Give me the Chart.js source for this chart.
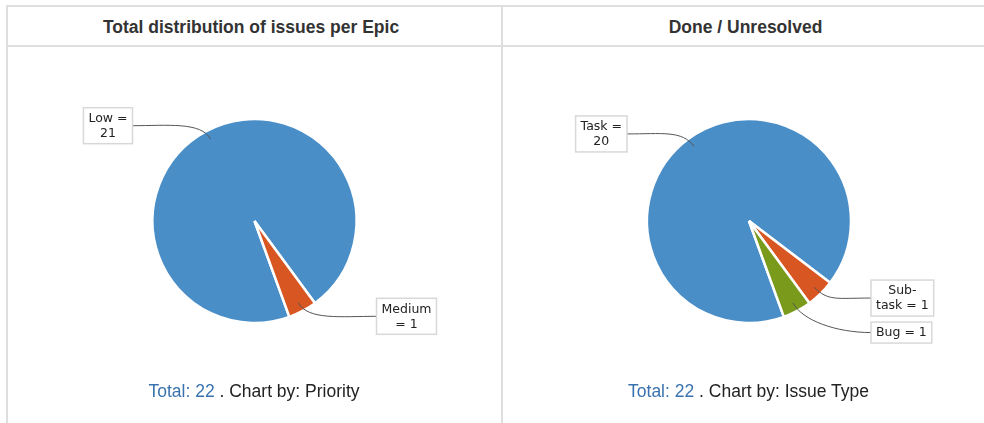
<!DOCTYPE html>
<html><head><meta charset="utf-8">
<script src="https://cdn.jsdelivr.net/npm/chart.js@4/dist/chart.umd.min.js"></script>
<style>
html,body{margin:0;padding:0;background:#fff;width:984px;height:423px;overflow:hidden;position:relative;font-family:"Liberation Sans",Arial,sans-serif;}
.ln{position:absolute;background:#dedede;}
.hd{position:absolute;top:17px;height:20px;line-height:20px;font-size:17.5px;font-weight:bold;color:#333;text-align:center;white-space:nowrap;}
.ft{position:absolute;top:381px;height:20px;line-height:20px;font-size:17.5px;color:#222;text-align:center;white-space:nowrap;}
.ft a{color:#3b73af;text-decoration:none;}
canvas{position:absolute;}
</style>
</head><body>
<div class="ln" style="left:6px;top:5px;width:978px;height:2px"></div>
<div class="ln" style="left:6px;top:45px;width:978px;height:2px"></div>
<div class="ln" style="left:6px;top:5px;width:2px;height:418px"></div>
<div class="ln" style="left:501px;top:5px;width:2px;height:418px"></div>
<div class="hd" id="h1" style="left:7px;width:488px"></div>
<div class="hd" id="h2" style="left:502px;width:487px"></div>
<canvas id="c1" width="493" height="346" style="left:8px;top:48px"></canvas>
<canvas id="c2" width="470" height="346" style="left:514px;top:48px"></canvas>
<div class="ft" id="f1" style="left:4px;width:500px"></div>
<div class="ft" id="f2" style="left:504px;width:489px"></div>
<script>
const title1 = 'Total distribution of issues per Epic';
const title2 = 'Done / Unresolved';
const priorityLabels = ['Low', 'Medium'];
const priorityValues = [21, 1];
const priorityColors = ['#4a8ec8', '#d85622'];
const typeLabels = ['Task', 'Sub-task', 'Bug'];
const typeValues = [20, 1, 1];
const typeColors = ['#4a8ec8', '#d85622', '#7a9a1b'];
const chartBy1 = 'Priority';
const chartBy2 = 'Issue Type';

document.getElementById('h1').textContent = title1;
document.getElementById('h2').textContent = title2;
function footer(id, vals, by){
  const total = vals.reduce((a,b)=>a+b,0);
  const el = document.getElementById(id);
  const a = document.createElement('a'); a.textContent = 'Total: ' + total;
  el.appendChild(a);
  el.appendChild(document.createTextNode(' . Chart by: ' + by));
}
footer('f1', priorityValues, chartBy1);
footer('f2', typeValues, chartBy2);

const FONT_SIZE = 12.5;
function wrap(ctx, text, maxW){
  const toks = text.split(/(?<=[\s-])/);
  const lines = []; let line = '';
  for (const t of toks){
    const cand = (line + t).trimEnd();
    if (line && ctx.measureText(cand).width > maxW){ lines.push(line.trimEnd()); line = t; }
    else line += t;
  }
  if (line) lines.push(line.trimEnd());
  return lines;
}

const pieLabels = {
  id: 'pieLabels',
  afterDatasetsDraw(chart){
    const ctx = chart.ctx;
    const meta = chart.getDatasetMeta(0);
    const ds = chart.data.datasets[0];
    ctx.save();
    ctx.font = FONT_SIZE + 'px "DejaVu Sans"';
    const padX = 5, padY = 3, lineH = 15, gap = 6;
    const items = [];
    meta.data.forEach((arc, i) => {
      const p = arc.getProps(['x','y','startAngle','endAngle','outerRadius'], true);
      const mid = (p.startAngle + p.endAngle) / 2;
      const c = Math.cos(mid), s = Math.sin(mid), R = p.outerRadius;
      const text = chart.data.labels[i] + ' = ' + ds.data[i];
      const lines = wrap(ctx, text, FONT_SIZE * 4.3);
      const w = Math.max(...lines.map(l => ctx.measureText(l).width)) + 2 * padX;
      const h = lines.length * lineH + 2 * padY;
      const left = c < 0;
      items.push({lines, w, h, left, cy: p.y + s * R * 1.06,
        ax: p.x + c * R * 0.91, ay: p.y + s * R * 0.91, c, s,
        bx: left ? p.x - R - 20 - w : p.x + R + 20});
    });
    [true, false].forEach(side => {
      const arr = items.filter(it => it.left === side).sort((a,b) => a.cy - b.cy);
      let bottom = -Infinity;
      arr.forEach(it => {
        let top = it.cy - it.h / 2;
        if (top < bottom + gap) top = bottom + gap;
        it.top = top; bottom = top + it.h;
      });
    });
    items.forEach(it => {
      const ey = it.top + it.h / 2;
      const ex = it.left ? it.bx + it.w : it.bx;
      const dir = it.left ? 1 : -1;
      ctx.beginPath();
      ctx.moveTo(ex, ey);
      ctx.bezierCurveTo(ex + dir * 35, ey, it.ax + it.c * 20, it.ay + it.s * 20, it.ax, it.ay);
      ctx.strokeStyle = '#555';
      ctx.lineWidth = 1;
      ctx.stroke();
      ctx.fillStyle = '#fff';
      ctx.fillRect(it.bx, it.top, it.w, it.h);
      ctx.strokeStyle = '#d8d8d8';
      ctx.lineWidth = 1.5;
      ctx.strokeRect(it.bx, it.top, it.w, it.h);
      ctx.fillStyle = '#222';
      ctx.textAlign = 'center';
      ctx.textBaseline = 'middle';
      it.lines.forEach((l, k) => {
        ctx.fillText(l, it.bx + it.w / 2, it.top + padY + lineH * k + lineH / 2 + 0.5);
      });
    });
    ctx.restore();
  }
};

function makePie(id, labels, values, colors){
  return new Chart(document.getElementById(id), {
    type: 'pie',
    data: { labels, datasets: [{ data: values, backgroundColor: colors,
      borderColor: '#fff', borderWidth: 2.5, radius: 102, hoverOffset: 0 }] },
    options: { responsive: false, animation: false, rotation: 160, events: [],
      layout: { padding: 0 },
      plugins: { legend: { display: false }, tooltip: { enabled: false } } },
    plugins: [pieLabels]
  });
}
makePie('c1', priorityLabels, priorityValues, priorityColors);
makePie('c2', typeLabels, typeValues, typeColors);
</script>
</body></html>
